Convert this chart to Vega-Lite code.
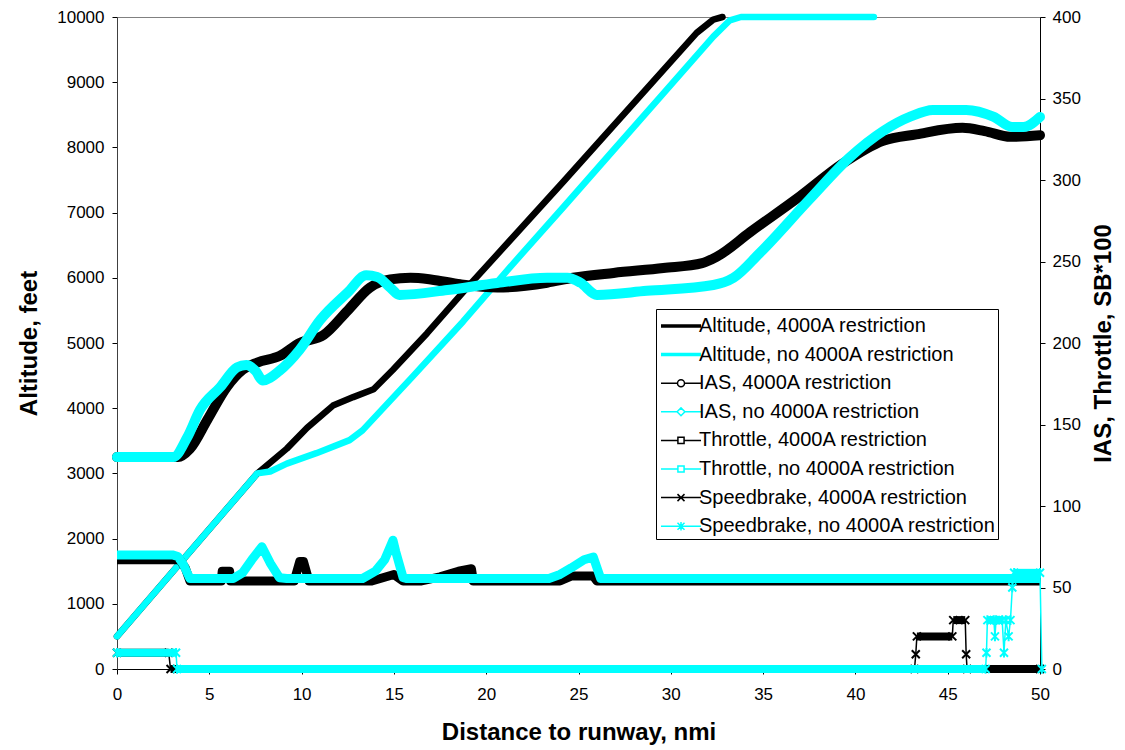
{
  "$schema": "https://vega.github.io/schema/vega-lite/v6.json",
  "width": 923,
  "height": 652,
  "autosize": {"type": "none"},
  "padding": {"left": 117, "top": 17, "right": 85, "bottom": 81},
  "background": "#ffffff",
  "config": {
    "font": "Liberation Sans",
    "view": {"stroke": "#808080", "strokeWidth": 1},
    "axis": {
      "grid": false,
      "labelFont": "Liberation Sans",
      "labelFontSize": 17,
      "labelColor": "#000000",
      "titleFont": "Liberation Sans",
      "titleFontSize": 24,
      "titleFontWeight": "bold",
      "titleColor": "#000000",
      "domainColor": "#000000",
      "tickColor": "#000000",
      "tickSize": 5,
      "format": "d"
    },
    "legend": {
      "orient": "none",
      "legendX": 539,
      "legendY": 292,
      "padding": 2,
      "strokeColor": "#000000",
      "fillColor": "#ffffff",
      "labelFont": "Liberation Sans",
      "labelFontSize": 20,
      "labelLimit": 600,
      "labelColor": "#000000",
      "symbolSize": 784,
      "symbolStrokeWidth": 1.5,
      "rowPadding": 3.6,
      "labelOffset": 3,
      "symbolOffset": 8,
      "cornerRadius": 0
    }
  },
  "datasets": {
    "alt": [
      {"s":"AltR","x":0,"v":500},{"s":"AltR","x":7.6,"v":3000},{"s":"AltR","x":9.2,"v":3380},{"s":"AltR","x":10.3,"v":3700},{"s":"AltR","x":11.7,"v":4040},{"s":"AltR","x":12.8,"v":4170},{"s":"AltR","x":13.9,"v":4290},{"s":"AltR","x":14.95,"v":4590},{"s":"AltR","x":16.8,"v":5150},{"s":"AltR","x":19,"v":5860},{"s":"AltR","x":24.2,"v":7480},{"s":"AltR","x":31.4,"v":9756},{"s":"AltR","x":32.3,"v":9960},{"s":"AltR","x":32.8,"v":10000},
      {"s":"AltN","x":0,"v":500},{"s":"AltN","x":7.6,"v":3000},{"s":"AltN","x":8.3,"v":3030},{"s":"AltN","x":9.2,"v":3150},{"s":"AltN","x":10.8,"v":3310},{"s":"AltN","x":12.6,"v":3510},{"s":"AltN","x":13.3,"v":3660},{"s":"AltN","x":16.0,"v":4480},{"s":"AltN","x":18.75,"v":5330},{"s":"AltN","x":21.5,"v":6230},{"s":"AltN","x":24.2,"v":7090},{"s":"AltN","x":26.9,"v":7960},{"s":"AltN","x":29.6,"v":8830},{"s":"AltN","x":32.3,"v":9700},{"s":"AltN","x":33.2,"v":9950},{"s":"AltN","x":33.8,"v":10000},{"s":"AltN","x":41,"v":10000}
    ],
    "ias": [
      {"s":"IasR","x":0,"v":130},{"s":"IasR","x":3.3,"v":130},{"s":"IasR","x":3.95,"v":135},{"s":"IasR","x":4.9,"v":153},{"s":"IasR","x":5.95,"v":173},{"s":"IasR","x":6.8,"v":183.5},{"s":"IasR","x":7.6,"v":188},{"s":"IasR","x":8.8,"v":192},{"s":"IasR","x":9.9,"v":200},{"s":"IasR","x":11.2,"v":205},{"s":"IasR","x":12.5,"v":220},{"s":"IasR","x":13.7,"v":234},{"s":"IasR","x":14.8,"v":239},{"s":"IasR","x":15.9,"v":240},{"s":"IasR","x":17,"v":239},{"s":"IasR","x":18.6,"v":236},{"s":"IasR","x":20.6,"v":234},{"s":"IasR","x":23.3,"v":237},{"s":"IasR","x":24.7,"v":240},{"s":"IasR","x":26.9,"v":243},{"s":"IasR","x":29.6,"v":246},{"s":"IasR","x":31.7,"v":249},{"s":"IasR","x":32.5,"v":253},{"s":"IasR","x":34.3,"v":268},{"s":"IasR","x":37,"v":290},{"s":"IasR","x":39.3,"v":310},{"s":"IasR","x":41.5,"v":324},{"s":"IasR","x":43.3,"v":328},{"s":"IasR","x":45.8,"v":332},{"s":"IasR","x":47,"v":330},{"s":"IasR","x":48.4,"v":326.5},{"s":"IasR","x":50,"v":327.5},
      {"s":"IasN","x":0,"v":130},{"s":"IasN","x":3.05,"v":130},{"s":"IasN","x":3.8,"v":142},{"s":"IasN","x":4.5,"v":159},{"s":"IasN","x":5.6,"v":173},{"s":"IasN","x":6.5,"v":185},{"s":"IasN","x":7.0,"v":186.5},{"s":"IasN","x":7.5,"v":183},{"s":"IasN","x":7.9,"v":177},{"s":"IasN","x":8.8,"v":183},{"s":"IasN","x":9.9,"v":196},{"s":"IasN","x":11,"v":214},{"s":"IasN","x":12.5,"v":231},{"s":"IasN","x":13.5,"v":241.5},{"s":"IasN","x":14.1,"v":240.5},{"s":"IasN","x":14.8,"v":234},{"s":"IasN","x":15.3,"v":229.5},{"s":"IasN","x":17.9,"v":232.5},{"s":"IasN","x":20.6,"v":236.8},{"s":"IasN","x":23.3,"v":240},{"s":"IasN","x":24.4,"v":240},{"s":"IasN","x":25.1,"v":237},{"s":"IasN","x":26,"v":229.5},{"s":"IasN","x":28.7,"v":232},{"s":"IasN","x":32.3,"v":235.6},{"s":"IasN","x":33.4,"v":240},{"s":"IasN","x":34.8,"v":255},{"s":"IasN","x":37.5,"v":288},{"s":"IasN","x":39.7,"v":314},{"s":"IasN","x":41.5,"v":330},{"s":"IasN","x":43,"v":339},{"s":"IasN","x":44.2,"v":343},{"s":"IasN","x":46,"v":343},{"s":"IasN","x":47.5,"v":338.7},{"s":"IasN","x":48.5,"v":332.5},{"s":"IasN","x":49.1,"v":332.5},{"s":"IasN","x":50,"v":338.7}
    ],
    "thr": [
      {"s":"ThrR","x":0,"v":67},{"s":"ThrR","x":3.4,"v":67},{"s":"ThrR","x":3.7,"v":62},{"s":"ThrR","x":3.95,"v":54},{"s":"ThrR","x":5.65,"v":54},{"s":"ThrR","x":5.7,"v":60},{"s":"ThrR","x":6.1,"v":60},{"s":"ThrR","x":6.15,"v":54},{"s":"ThrR","x":9.6,"v":54},{"s":"ThrR","x":9.9,"v":66},{"s":"ThrR","x":10.1,"v":66},{"s":"ThrR","x":10.4,"v":54},{"s":"ThrR","x":13.8,"v":54},{"s":"ThrR","x":15.0,"v":58},{"s":"ThrR","x":15.5,"v":54},{"s":"ThrR","x":16.5,"v":54},{"s":"ThrR","x":17.5,"v":56.5},{"s":"ThrR","x":18.5,"v":60},{"s":"ThrR","x":19.2,"v":61.5},{"s":"ThrR","x":19.3,"v":54},{"s":"ThrR","x":24.0,"v":54},{"s":"ThrR","x":24.6,"v":57},{"s":"ThrR","x":25.8,"v":57},{"s":"ThrR","x":26.0,"v":54},{"s":"ThrR","x":50,"v":54},
      {"s":"ThrN","x":0,"v":70},{"s":"ThrN","x":3.0,"v":70},{"s":"ThrN","x":3.3,"v":69},{"s":"ThrN","x":3.6,"v":64},{"s":"ThrN","x":3.95,"v":55.5},{"s":"ThrN","x":6.3,"v":55.5},{"s":"ThrN","x":6.8,"v":59},{"s":"ThrN","x":7.3,"v":67},{"s":"ThrN","x":7.85,"v":75},{"s":"ThrN","x":8.3,"v":65},{"s":"ThrN","x":8.8,"v":56},{"s":"ThrN","x":9.2,"v":55.5},{"s":"ThrN","x":13.3,"v":55.5},{"s":"ThrN","x":14.0,"v":60},{"s":"ThrN","x":14.5,"v":67},{"s":"ThrN","x":14.95,"v":79},{"s":"ThrN","x":15.1,"v":72},{"s":"ThrN","x":15.3,"v":64},{"s":"ThrN","x":15.5,"v":56},{"s":"ThrN","x":15.7,"v":55.5},{"s":"ThrN","x":23.4,"v":55.5},{"s":"ThrN","x":24,"v":58},{"s":"ThrN","x":24.6,"v":62},{"s":"ThrN","x":25.3,"v":67},{"s":"ThrN","x":25.8,"v":68.7},{"s":"ThrN","x":26.2,"v":55.5},{"s":"ThrN","x":50,"v":55.5}
    ],
    "sb": [
      {"s":"SbR","x":0,"v":10},{"s":"SbR","x":2.8,"v":10},{"s":"SbR","x":2.9,"v":0},{"s":"SbR","x":43.2,"v":0},{"s":"SbR","x":43.27,"v":9},{"s":"SbR","x":43.33,"v":20},{"s":"SbR","x":45.25,"v":20},{"s":"SbR","x":45.3,"v":30},{"s":"SbR","x":45.95,"v":30},{"s":"SbR","x":46.0,"v":9},{"s":"SbR","x":46.05,"v":0},{"s":"SbR","x":50,"v":0},
      {"s":"SbN","x":0,"v":10},{"s":"SbN","x":3.2,"v":10},{"s":"SbN","x":3.25,"v":0},{"s":"SbN","x":47.05,"v":0},{"s":"SbN","x":47.1,"v":10},{"s":"SbN","x":47.15,"v":30},{"s":"SbN","x":47.5,"v":30},{"s":"SbN","x":47.56,"v":20},{"s":"SbN","x":47.62,"v":30},{"s":"SbN","x":47.95,"v":30},{"s":"SbN","x":48.05,"v":10},{"s":"SbN","x":48.15,"v":30},{"s":"SbN","x":48.3,"v":20},{"s":"SbN","x":48.4,"v":30},{"s":"SbN","x":48.5,"v":50},{"s":"SbN","x":48.6,"v":59},{"s":"SbN","x":50,"v":59},{"s":"SbN","x":50.1,"v":0}
    ],
    "sbrun": [
      {"s":"SbR","x":0,"x2":2.8,"v":10},{"s":"SbR","x":2.9,"x2":43.2,"v":0},{"s":"SbR","x":43.33,"x2":45.25,"v":20},{"s":"SbR","x":45.3,"x2":45.95,"v":30},{"s":"SbR","x":46.05,"x2":50,"v":0},
      {"s":"SbN","x":0,"x2":3.2,"v":10},{"s":"SbN","x":3.25,"x2":47.05,"v":0},{"s":"SbN","x":47.15,"x2":47.5,"v":30},{"s":"SbN","x":47.62,"x2":47.95,"v":30},{"s":"SbN","x":48.6,"x2":50,"v":59}
    ]
  },
  "encoding": {
    "x": {
      "field": "x",
      "type": "quantitative",
      "scale": {"domain": [0, 50], "nice": false, "zero": false},
      "axis": {
        "title": "Distance to runway, nmi",
        "values": [0, 5, 10, 15, 20, 25, 30, 35, 40, 45, 50],
        "labelFlush": false,
        "labelPadding": 12,
        "titlePadding": 18
      }
    }
  },
  "layer": [
    {
      "data": {"name": "alt"},
      "mark": {"type": "line", "strokeWidth": 6.5, "interpolate": "linear", "strokeCap": "round", "strokeJoin": "round"},
      "encoding": {
        "y": {
          "field": "v",
          "type": "quantitative",
          "scale": {"domain": [0, 10000], "nice": false},
          "axis": {
            "orient": "left",
            "title": "Altitude, feet",
            "values": [0, 1000, 2000, 3000, 4000, 5000, 6000, 7000, 8000, 9000, 10000],
            "labelPadding": 8,
            "titlePadding": 15,
            "domainColor": "#404040"
          }
        },
        "stroke": {
          "field": "s",
          "type": "nominal",
          "scale": {"domain": ["SbN","SbR","ThrN","ThrR","IasN","IasR","AltN","AltR"], "range": ["#00FFFF","#000000","#00FFFF","#000000","#00FFFF","#000000","#00FFFF","#000000"]},
          "legend": null
        }
      }
    },
    {
      "encoding": {
        "y": {
          "field": "v",
          "type": "quantitative",
          "scale": {"domain": [0, 400], "nice": false},
          "axis": {
            "orient": "right",
            "title": "IAS, Throttle, SB*100",
            "titleAngle": 270,
            "titleBaseline": "top",
            "values": [0, 50, 100, 150, 200, 250, 300, 350, 400],
            "labelPadding": 7,
            "titlePadding": 11
          }
        }
      },
      "layer": [
        {
          "data": {"name": "ias"},
          "mark": {"type": "line", "strokeWidth": 10, "interpolate": "monotone", "strokeCap": "round", "strokeJoin": "round"},
          "encoding": {
            "stroke": {"field": "s", "type": "nominal", "scale": {"domain": ["SbN","SbR","ThrN","ThrR","IasN","IasR","AltN","AltR"], "range": ["#00FFFF","#000000","#00FFFF","#000000","#00FFFF","#000000","#00FFFF","#000000"]}, "legend": null}
          }
        },
        {
          "data": {"name": "thr"},
          "mark": {"type": "line", "strokeWidth": 9, "strokeCap": "butt", "strokeJoin": "round"},
          "encoding": {
            "stroke": {"field": "s", "type": "nominal", "scale": {"domain": ["SbN","SbR","ThrN","ThrR","IasN","IasR","AltN","AltR"], "range": ["#00FFFF","#000000","#00FFFF","#000000","#00FFFF","#000000","#00FFFF","#000000"]}, "legend": null}
          }
        },
        {
          "data": {"name": "sb"},
          "mark": {"type": "line", "strokeWidth": 1.5},
          "encoding": {
            "stroke": {"field": "s", "type": "nominal", "scale": {"domain": ["SbN","SbR","ThrN","ThrR","IasN","IasR","AltN","AltR"], "range": ["#00FFFF","#000000","#00FFFF","#000000","#00FFFF","#000000","#00FFFF","#000000"]}, "legend": null}
          }
        },
        {
          "data": {"name": "sb"},
          "transform": [{"filter": "datum.s == 'SbR'"}],
          "mark": {"type": "point", "shape": "M-1,-1L1,1M-1,1L1,-1", "size": 64, "strokeWidth": 2, "filled": false, "opacity": 1, "color": "#000000"}
        },
        {
          "data": {"name": "sbrun"},
          "mark": {"type": "rule", "strokeWidth": 8, "strokeCap": "butt"},
          "encoding": {
            "x2": {"field": "x2"},
            "stroke": {"field": "s", "type": "nominal", "scale": {"domain": ["SbN","SbR","ThrN","ThrR","IasN","IasR","AltN","AltR"], "range": ["#00FFFF","#000000","#00FFFF","#000000","#00FFFF","#000000","#00FFFF","#000000"]}, "legend": null}
          }
        },
        {
          "data": {"name": "sb"},
          "transform": [{"filter": "datum.s == 'SbN'"}],
          "mark": {"type": "point", "shape": "M-1,-1L1,1M-1,1L1,-1M0,-1.2L0,1.2", "size": 64, "strokeWidth": 2, "filled": false, "opacity": 1, "color": "#00FFFF"}
        },
        {
          "data": {"values": [{"s": "AltR"}]},
          "transform": [{"filter": "datum.s == 'none'"}],
          "mark": {"type": "point", "filled": false, "opacity": 1, "size": 784, "strokeWidth": 1.5},
          "encoding": {
            "x": {"value": 0},
            "y": {"value": 0},
            "color": {
              "field": "s",
              "type": "nominal",
              "scale": {"domain": ["AltR","AltN","IasR","IasN","ThrR","ThrN","SbR","SbN"], "range": ["#000000","#00FFFF","#000000","#00FFFF","#000000","#00FFFF","#000000","#00FFFF"]},
              "legend": {
                "title": null,
                "labelExpr": "datum.label=='AltR'?'Altitude, 4000A restriction':datum.label=='AltN'?'Altitude, no 4000A restriction':datum.label=='IasR'?'IAS, 4000A restriction':datum.label=='IasN'?'IAS, no 4000A restriction':datum.label=='ThrR'?'Throttle, 4000A restriction':datum.label=='ThrN'?'Throttle, no 4000A restriction':datum.label=='SbR'?'Speedbrake, 4000A restriction':'Speedbrake, no 4000A restriction'"
              }
            },
            "shape": {
              "field": "s",
              "type": "nominal",
              "scale": {
                "domain": ["AltR","AltN","IasR","IasN","ThrR","ThrN","SbR","SbN"],
                "range": [
                  "M-1.43,-0.07H1.43M-1.43,0H1.43M-1.43,0.07H1.43",
                  "M-1.43,-0.07H1.43M-1.43,0H1.43M-1.43,0.07H1.43",
                  "M-1.43,0H-0.25M0.25,0H1.43M-0.25,0A0.25,0.25,0,1,0,0.25,0A0.25,0.25,0,1,0,-0.25,0",
                  "M-1.43,0H-0.28M0.28,0H1.43M-0.28,0L0,-0.28L0.28,0L0,0.28Z",
                  "M-1.43,0H-0.22M0.22,0H1.43M-0.22,-0.22H0.22V0.22H-0.22Z",
                  "M-1.43,0H-0.22M0.22,0H1.43M-0.22,-0.22H0.22V0.22H-0.22Z",
                  "M-1.43,0H1.43M-0.25,-0.25L0.25,0.25M-0.25,0.25L0.25,-0.25",
                  "M-1.43,0H1.43M-0.25,-0.25L0.25,0.25M-0.25,0.25L0.25,-0.25M0,-0.3V0.3"
                ]
              },
              "legend": {
                "title": null,
                "labelExpr": "datum.label=='AltR'?'Altitude, 4000A restriction':datum.label=='AltN'?'Altitude, no 4000A restriction':datum.label=='IasR'?'IAS, 4000A restriction':datum.label=='IasN'?'IAS, no 4000A restriction':datum.label=='ThrR'?'Throttle, 4000A restriction':datum.label=='ThrN'?'Throttle, no 4000A restriction':datum.label=='SbR'?'Speedbrake, 4000A restriction':'Speedbrake, no 4000A restriction'"
              }
            }
          }
        }
      ]
    }
  ],
  "resolve": {"scale": {"y": "independent"}}
}
